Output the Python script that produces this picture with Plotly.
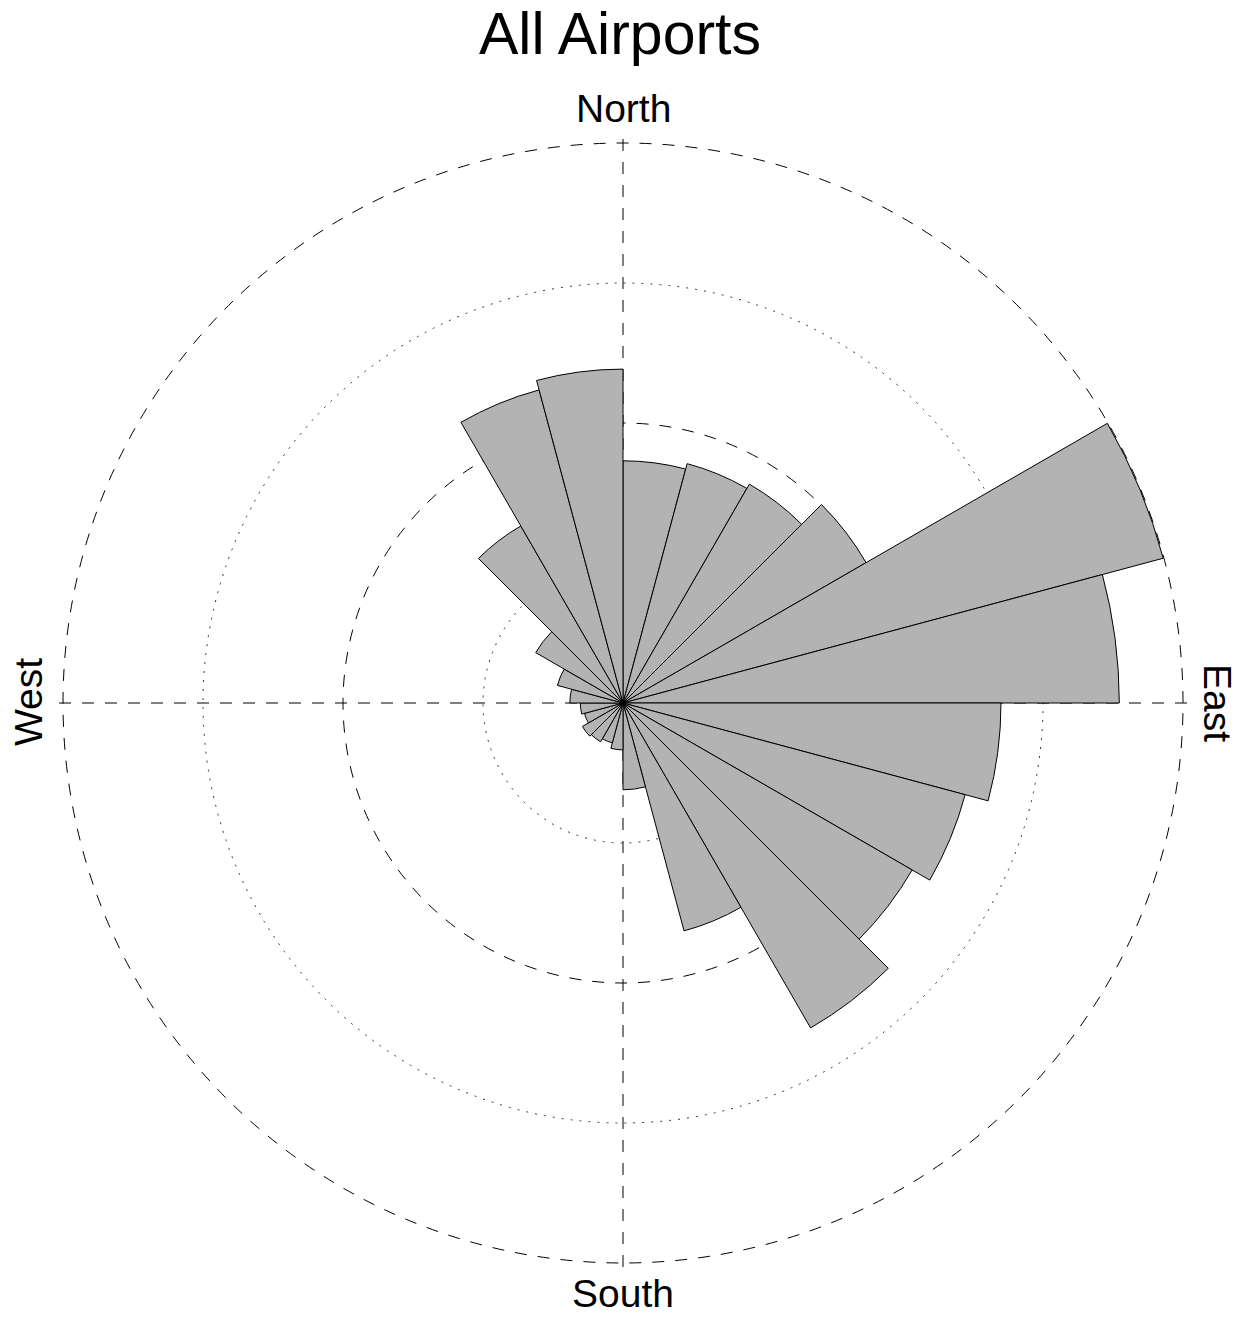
import plotly.graph_objects as go

# Wind direction frequencies in 15-degree sectors, clockwise from North
sector_start = list(range(0, 360, 15))
sector_width = 15
frequency = [
    3.46, 3.54, 3.61, 4.01, 7.99, 7.09,
    5.40, 5.06, 4.77, 5.36, 3.37, 1.24,
    0.67, 0.59, 0.64, 0.67, 0.57, 0.61,
    0.76, 0.97, 1.44, 2.92, 4.63, 4.77,
]
dotted_rings = [2, 6]
dashed_rings = [4, 8]
compass_angles = [0, 90, 180, 270]
compass_labels = ["North", "East", "South", "West"]
title_text = "All Airports"

sector_center = [s + sector_width / 2 for s in sector_start]

W, H = 1244, 1317
cx, cy = 623, 703            # centre of the rose in pixels
ring_px = 560                # pixel radius of the outermost ring
r_max = 8.06                 # radial range (outer ring sits just inside)
rad_px = ring_px * r_max / dashed_rings[-1]

dom_x = [(cx - rad_px) / W, (cx + rad_px) / W]
dom_y = [1 - (cy + rad_px) / H, 1 - (cy - rad_px) / H]

FONT = "Liberation Sans, Arial, Helvetica, sans-serif"

fig = go.Figure()

# lower subplot only carries the dotted rings
fig.add_trace(go.Scatterpolar(r=[], theta=[], subplot="polar", showlegend=False,
                              hoverinfo="skip"))

fig.add_trace(go.Barpolar(
    r=frequency,
    theta=sector_center,
    width=[sector_width] * len(frequency),
    subplot="polar2",
    marker=dict(color="#b3b3b3", line=dict(color="black", width=1)),
    showlegend=False,
))

common_angular = dict(rotation=90, direction="clockwise", showticklabels=False,
                      ticks="", showline=False)
common_radial = dict(range=[0, r_max], showticklabels=False, ticks="",
                     showline=False)

fig.update_layout(
    width=W, height=H,
    margin=dict(l=0, r=0, t=0, b=0),
    paper_bgcolor="white",
    plot_bgcolor="white",
    font=dict(family=FONT, color="black"),
    polar=dict(
        domain=dict(x=dom_x, y=dom_y),
        bgcolor="white",
        radialaxis=dict(**common_radial, tickmode="array", tickvals=dotted_rings,
                        showgrid=True, gridcolor="#333333", gridwidth=1,
                        griddash="2px,7px"),
        angularaxis=dict(**common_angular, showgrid=False),
    ),
    polar2=dict(
        domain=dict(x=dom_x, y=dom_y),
        bgcolor="rgba(0,0,0,0)",
        radialaxis=dict(**common_radial, tickmode="array", tickvals=dashed_rings,
                        showgrid=True, gridcolor="black", gridwidth=1,
                        griddash="12px,11px"),
        angularaxis=dict(**common_angular, tickmode="array", tickvals=compass_angles,
                         showgrid=True, gridcolor="black", gridwidth=1,
                         griddash="12px,11px"),
    ),
)

# title and compass point labels
fig.add_annotation(text=title_text, x=620 / W, y=1 - 34 / H, xref="paper", yref="paper",
                   showarrow=False, xanchor="center", yanchor="middle",
                   font=dict(size=59, family=FONT, color="black"))

label_pos = {
    "North": (623, 108, 0, "middle"),
    "East": (1217, 703, 90, "middle"),
    "South": (623, H, 0, "bottom"),
    "West": (28, 702, -90, "middle"),
}
for lab in compass_labels:
    px, py, ang, ya = label_pos[lab]
    fig.add_annotation(text=lab, x=px / W, y=1 - py / H, xref="paper", yref="paper",
                       showarrow=False, xanchor="center", yanchor=ya,
                       textangle=ang, font=dict(size=39, family=FONT, color="black"))

fig.write_html("out.html")
